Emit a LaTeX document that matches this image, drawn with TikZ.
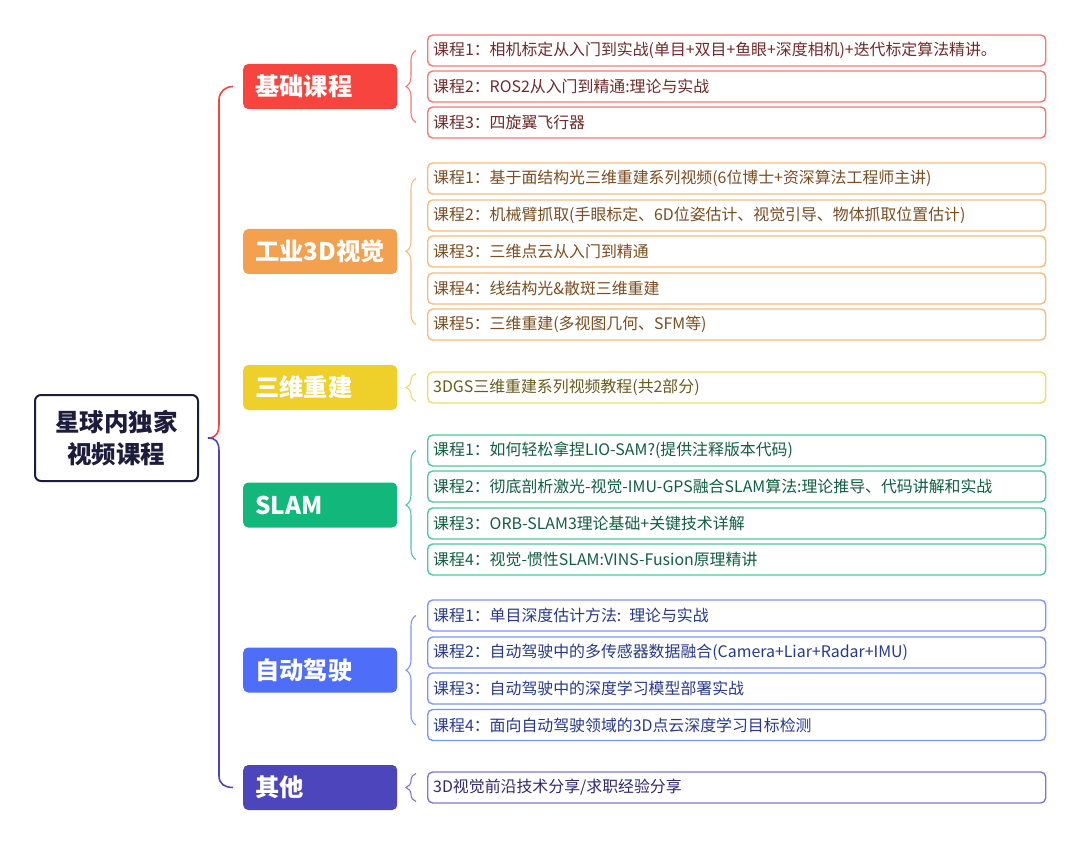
\documentclass[tikz,border=0pt]{standalone}
\usepackage{fontspec}
\setmainfont{Noto Sans CJK SC}
\usetikzlibrary{calc,decorations.pathreplacing}
\definecolor{cRed}{HTML}{F8443E}
\definecolor{cOrange}{HTML}{F4A14F}
\definecolor{cYellow}{HTML}{EFD02A}
\definecolor{cGreen}{HTML}{12B77B}
\definecolor{cBlue}{HTML}{4E6DF8}
\definecolor{cIndigo}{HTML}{4C45BC}
\definecolor{bRed}{HTML}{F27A76}
\definecolor{bOrange}{HTML}{F6BB80}
\definecolor{bYellow}{HTML}{F1DA6A}
\definecolor{bGreen}{HTML}{4CC99A}
\definecolor{bBlue}{HTML}{7F94F6}
\definecolor{bIndigo}{HTML}{7E78D2}
\definecolor{tRed}{HTML}{6E2C2A}
\definecolor{tOrange}{HTML}{7A4D22}
\definecolor{tYellow}{HTML}{6A5A1C}
\definecolor{tGreen}{HTML}{115E41}
\definecolor{tBlue}{HTML}{28398C}
\definecolor{tIndigo}{HTML}{2E2A72}
\definecolor{rootc}{HTML}{1C1C3C}
\tikzset{
  rootbox/.style={draw=rootc, line width=2, fill=white, rounded corners=6,
    minimum width=163, minimum height=86, align=center, text=rootc,
    font=\fontsize{24.5}{32}\selectfont\bfseries},
  catbox/.style={fill=#1, rounded corners=5, minimum height=45, text width=130,
    inner xsep=12, inner ysep=0, align=left, text=white, anchor=west,
    font=\fontsize{24.3}{26}\selectfont\bfseries},
  leafbox/.style n args={2}{draw=#1, text=#2, line width=1.4, fill=white,
    rounded corners=5, minimum height=31, text width=607, inner xsep=5.5,
    inner ysep=0, align=left, anchor=west, font=\fontsize{15.9}{18}\selectfont},
  bracebr/.style={draw=#1, line width=1.1, decorate,
    decoration={brace, amplitude=10}},
  trunk/.style={draw=#1, line width=1.6}
}
\begin{document}
\begin{tikzpicture}[x=1pt, y=-1pt]
\useasboundingbox (0,0) rectangle (1080,845);
% root
\node[rootbox] (root) at (116.5,438) {星球内独家\\视频课程};
% categories
\node[catbox=cRed] (c1) at (243,86.5) {基础课程};
\node[catbox=cOrange] (c2) at (243,251.5) {工业3D视觉};
\node[catbox=cYellow] (c3) at (243,387.5) {三维重建};
\node[catbox=cGreen] (c4) at (243,505) {SLAM};
\node[catbox=cBlue] (c5) at (243,670) {自动驾驶};
\node[catbox=cIndigo] (c6) at (243,787.5) {其他};
% leaves
\node[leafbox={bRed}{tRed}] (l11) at (427,50.5) {课程1：相机标定从入门到实战(单目+双目+鱼眼+深度相机)+迭代标定算法精讲。};
\node[leafbox={bRed}{tRed}] (l12) at (427,86.5) {课程2：ROS2从入门到精通:理论与实战};
\node[leafbox={bRed}{tRed}] (l13) at (427,122.5) {课程3：四旋翼飞行器};
\node[leafbox={bOrange}{tOrange}] (l21) at (427,178.5) {课程1：基于面结构光三维重建系列视频(6位博士+资深算法工程师主讲)};
\node[leafbox={bOrange}{tOrange}] (l22) at (427,215.5) {课程2：机械臂抓取(手眼标定、6D位姿估计、视觉引导、物体抓取位置估计)};
\node[leafbox={bOrange}{tOrange}] (l23) at (427,251.5) {课程3：三维点云从入门到精通};
\node[leafbox={bOrange}{tOrange}] (l24) at (427,288.5) {课程4：线结构光\&散斑三维重建};
\node[leafbox={bOrange}{tOrange}] (l25) at (427,324.5) {课程5：三维重建(多视图几何、SFM等)};
\node[leafbox={bYellow}{tYellow}] (l31) at (427,387.5) {3DGS三维重建系列视频教程(共2部分)};
\node[leafbox={bGreen}{tGreen}] (l41) at (427,450.5) {课程1：如何轻松拿捏LIO-SAM?(提供注释版本代码)};
\node[leafbox={bGreen}{tGreen}] (l42) at (427,486.5) {课程2：彻底剖析激光-视觉-IMU-GPS融合SLAM算法:理论推导、代码讲解和实战};
\node[leafbox={bGreen}{tGreen}] (l43) at (427,523.5) {课程3：ORB-SLAM3理论基础+关键技术详解};
\node[leafbox={bGreen}{tGreen}] (l44) at (427,559.5) {课程4：视觉-惯性SLAM:VINS-Fusion原理精讲};
\node[leafbox={bBlue}{tBlue}] (l51) at (427,615.5) {课程1：单目深度估计方法: 理论与实战};
\node[leafbox={bBlue}{tBlue}] (l52) at (427,652.5) {课程2：自动驾驶中的多传感器数据融合(Camera+Liar+Radar+IMU)};
\node[leafbox={bBlue}{tBlue}] (l53) at (427,688.5) {课程3：自动驾驶中的深度学习模型部署实战};
\node[leafbox={bBlue}{tBlue}] (l54) at (427,725) {课程4：面向自动驾驶领域的3D点云深度学习目标检测};
\node[leafbox={bIndigo}{tIndigo}] (l61) at (427,787.5) {3D视觉前沿技术分享/求职经验分享};
% braces
\draw[bracebr=bRed] ([xshift=-11]l13.west) -- ([xshift=-11]l11.west);
\draw[bracebr=bOrange] ([xshift=-11]l25.west) -- ([xshift=-11]l21.west);
\draw[bracebr=bYellow] ([xshift=-11,yshift=-14]l31.west) -- ([xshift=-11,yshift=14]l31.west);
\draw[bracebr=bGreen] ([xshift=-11]l44.west) -- ([xshift=-11]l41.west);
\draw[bracebr=bBlue] ([xshift=-11]l54.west) -- ([xshift=-11]l51.west);
\draw[bracebr=bIndigo] ([xshift=-11,yshift=-14]l61.west) -- ([xshift=-11,yshift=14]l61.west);
% trunk
\coordinate (tip) at ([xshift=9]root.east);
\coordinate (c1in) at ([xshift=-10]c1.west);
\coordinate (c6in) at ([xshift=-10]c6.west);
\draw[trunk=cRed] (tip) .. controls +(8,0) and +(0,9) .. (219,424) -- (219,100)
  .. controls +(0,-8) and +(-8,0) .. (c1in);
\draw[trunk=cIndigo] (tip) .. controls +(8,0) and +(0,-9) .. (219,451) -- (219,776)
  .. controls +(0,8) and +(-8,0) .. (c6in);
\end{tikzpicture}
\end{document}
